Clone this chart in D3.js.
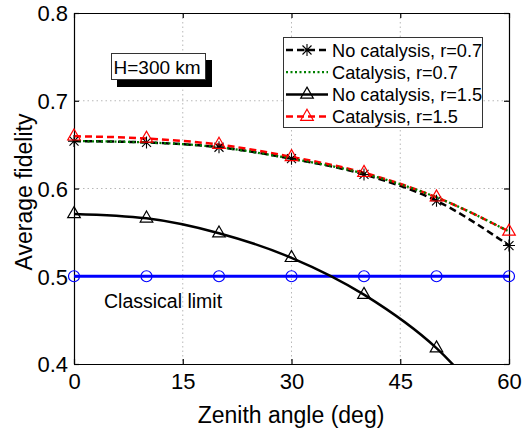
<!DOCTYPE html>
<html><head><meta charset="utf-8">
<script src="https://cdn.jsdelivr.net/npm/d3@7"></script>
<style>body{margin:0;background:#fff}svg{display:block}text{font-family:"Liberation Sans",Arial,sans-serif}</style>
</head><body><svg id="c" width="531" height="434"></svg>
<script>
const angles = [0, 10, 20, 30, 40, 50, 60];
const noCat07 = [0.654, 0.6525, 0.647, 0.634, 0.616, 0.586, 0.535];
const cat07   = [0.654, 0.6525, 0.647, 0.634, 0.617, 0.590, 0.551];
const noCat15 = [0.571, 0.566, 0.549, 0.521, 0.479, 0.418, 0.325];
const cat15   = [0.6595, 0.657, 0.650, 0.636, 0.618, 0.590, 0.551];
const classical = [0.5, 0.5, 0.5, 0.5, 0.5, 0.5, 0.5];
const xTicks = [0, 15, 30, 45, 60];
const yTicks = [0.4, 0.5, 0.6, 0.7, 0.8];
const legendLabels = ["No catalysis, r=0.7", "Catalysis, r=0.7", "No catalysis, r=1.5", "Catalysis, r=1.5"];

const svg = d3.select("#c");
const L = 74, R = 509, T = 13, B = 364;
const x = d3.scaleLinear().domain([0, 60]).range([L, R]);
const y = d3.scaleLinear().domain([0.4, 0.8]).range([B, T]);

svg.append("defs").append("clipPath").attr("id", "clip")
  .append("rect").attr("x", L).attr("y", T).attr("width", R - L).attr("height", B - T);

// grid
const grid = svg.append("g").attr("stroke", "#b8b8b8").attr("stroke-width", 1).attr("stroke-dasharray", "1.5,3");
xTicks.slice(1, -1).forEach(t => grid.append("line").attr("x1", x(t)).attr("x2", x(t)).attr("y1", T).attr("y2", B));
yTicks.slice(1, -1).forEach(t => grid.append("line").attr("x1", L).attr("x2", R).attr("y1", y(t)).attr("y2", y(t)));

// axes
const axB = svg.append("g").attr("transform", `translate(0,${B})`).call(d3.axisBottom(x).tickValues(xTicks).tickSizeInner(-5).tickSizeOuter(0).tickPadding(9));
const axL = svg.append("g").attr("transform", `translate(${L},0)`).call(d3.axisLeft(y).tickValues(yTicks).tickFormat(d3.format(".1f")).tickSizeInner(-5).tickSizeOuter(0).tickPadding(6));
const axT = svg.append("g").attr("transform", `translate(0,${T})`).call(d3.axisTop(x).tickValues(xTicks).tickSizeInner(-5).tickSizeOuter(0).tickFormat(""));
const axR = svg.append("g").attr("transform", `translate(${R},0)`).call(d3.axisRight(y).tickValues(yTicks).tickSizeInner(-5).tickSizeOuter(0).tickFormat(""));
[axB, axL, axT, axR].forEach(a => { a.selectAll("path,line").attr("stroke", "#000").attr("stroke-width", 1.2); a.selectAll("text").attr("fill", "#000").style("font-size", "22px").style("font-family", '"Liberation Sans",Arial,sans-serif'); });
axB.selectAll("text").attr("dy", "0.71em");
axL.selectAll("text").attr("dy", "0.36em");

const line = d3.line().x((d, i) => x(angles[i])).y(d => y(d)).curve(d3.curveMonotoneX);
const plot = svg.append("g").attr("clip-path", "url(#clip)");

const series = [
  {vals: classical, color: "#0000ff", w: 2.8, dash: null, marker: "circle"},
  {vals: noCat15, color: "#000", w: 2.5, dash: null, marker: "tri"},
  {vals: noCat07, color: "#000", w: 2.5, dash: "7,4", marker: "star"},
  {vals: cat15, color: "#ff0000", w: 2.5, dash: "7,4", marker: "tri"},
  {vals: cat07, color: "#008000", w: 2.3, dash: "2,2.5", marker: null}
];
series.forEach(s => {
  plot.append("path").attr("d", line(s.vals)).attr("fill", "none").attr("stroke", s.color)
    .attr("stroke-width", s.w).attr("stroke-dasharray", s.dash);
});

function drawMarker(g, type, cx, cy, color) {
  if (type === "circle") {
    g.append("circle").attr("cx", cx).attr("cy", cy).attr("r", 5.5).attr("fill", "none").attr("stroke", color).attr("stroke-width", 1.2);
  } else if (type === "tri") {
    g.append("path").attr("d", `M${cx},${cy - 7.3}L${cx + 6.3},${cy + 3.7}L${cx - 6.3},${cy + 3.7}Z`)
      .attr("fill", "none").attr("stroke", color).attr("stroke-width", 1.2);
  } else if (type === "star") {
    const r = 6, d = 4.5;
    g.append("path").attr("d", `M${cx},${cy - r}V${cy + r}M${cx - r},${cy}H${cx + r}M${cx - d},${cy - d}L${cx + d},${cy + d}M${cx - d},${cy + d}L${cx + d},${cy - d}`)
      .attr("stroke", color).attr("stroke-width", 1.1).attr("fill", "none");
  }
}
const mk = svg.append("g");
series.forEach(s => {
  if (!s.marker) return;
  s.vals.forEach((v, i) => { if (v >= 0.4 && v <= 0.8) drawMarker(mk, s.marker, x(angles[i]), y(v), s.color); });
});

// classical limit label
svg.append("text").attr("x", 104).attr("y", 308).style("font-size", "19.5px").text("Classical limit");

// H=300 km box
svg.append("rect").attr("x", 117).attr("y", 60).attr("width", 95).attr("height", 27).attr("fill", "#000");
svg.append("rect").attr("x", 111.5).attr("y", 53.5).attr("width", 94).attr("height", 26).attr("fill", "#fff").attr("stroke", "#333").attr("stroke-width", 1);
svg.append("text").attr("x", 113.5).attr("y", 73.5).style("font-size", "19px").text("H=300 km");

// legend
const lg = svg.append("g");
lg.append("rect").attr("x", 283.5).attr("y", 37.5).attr("width", 199).attr("height", 90).attr("fill", "#fff").attr("stroke", "#333").attr("stroke-width", 1);
const legOrder = [series[2], series[4], series[1], series[3]];
legOrder.forEach((s, i) => {
  const cy = 50 + i * 22.2;
  lg.append("line").attr("x1", 286).attr("x2", 328).attr("y1", cy).attr("y2", cy).attr("stroke", s.color)
    .attr("stroke-width", s.w).attr("stroke-dasharray", s.dash);
  if (s.marker) drawMarker(lg, s.marker, 307, cy, s.color);
  lg.append("text").attr("x", 332).attr("y", cy + 6.5).style("font-size", "18.2px").text(legendLabels[i]);
});

// axis labels
svg.append("text").attr("x", 291).attr("y", 423).attr("text-anchor", "middle").style("font-size", "23px").text("Zenith angle (deg)");
svg.append("text").attr("transform", "translate(32,192) rotate(-90)").attr("text-anchor", "middle").style("font-size", "23px").text("Average fidelity");
</script></body></html>
